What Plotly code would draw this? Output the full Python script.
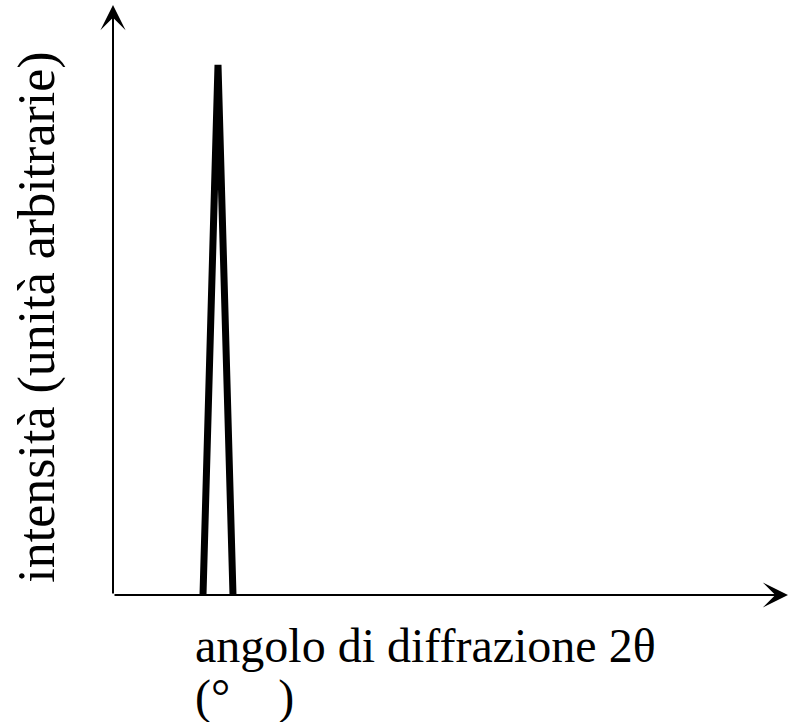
import plotly.graph_objects as go

# Data
angle = [12, 14, 16]          # 2θ (degrees)
intensity = [0, 100, 0]       # arbitrary units
x_range = [0, 90]
y_range = [0, 111.3]

x_title_line1 = "angolo di diffrazione 2θ"
x_title_line2 = "(°\u2002\u2002)"
y_title = "intensità (unità arbitrarie)"

FONT = "Liberation Serif"

fig = go.Figure()
fig.add_trace(go.Scatter(
    x=angle, y=intensity, mode="lines",
    line=dict(color="black", width=7),
    hoverinfo="skip", showlegend=False,
))

# axes with arrows
arrow = dict(showarrow=True, text="", arrowhead=3, arrowsize=2.1, arrowwidth=2,
             arrowcolor="black", standoff=0, startstandoff=0,
             xref="x domain", yref="y domain", axref="x domain", ayref="y domain")
fig.add_annotation(x=1, y=0, ax=0, ay=0, **arrow)
fig.add_annotation(x=0, y=1, ax=0, ay=0, **arrow)

fig.add_annotation(x=80 / 675, y=-22 / 590, xref="x domain", yref="y domain",
                   xanchor="left", yanchor="top", text=x_title_line1, showarrow=False,
                   font=dict(family=FONT, size=48, color="black"))
fig.add_annotation(x=80 / 675, y=-73 / 590, xref="x domain", yref="y domain",
                   xanchor="left", yanchor="top", text=x_title_line2, showarrow=False,
                   font=dict(family=FONT, size=48, color="black"))
fig.add_annotation(x=-76 / 675, y=0.47, xref="x domain", yref="y domain",
                   xanchor="center", yanchor="middle",
                   showarrow=False, textangle=-90, text=y_title,
                   font=dict(family=FONT, size=52, color="black"))

fig.update_layout(
    width=788, height=722,
    margin=dict(l=113, r=0, t=5, b=127),
    paper_bgcolor="white", plot_bgcolor="white",
    showlegend=False,
    xaxis=dict(range=x_range, visible=False, fixedrange=True),
    yaxis=dict(range=y_range, visible=False, fixedrange=True),
)

fig.write_html("out.html")
